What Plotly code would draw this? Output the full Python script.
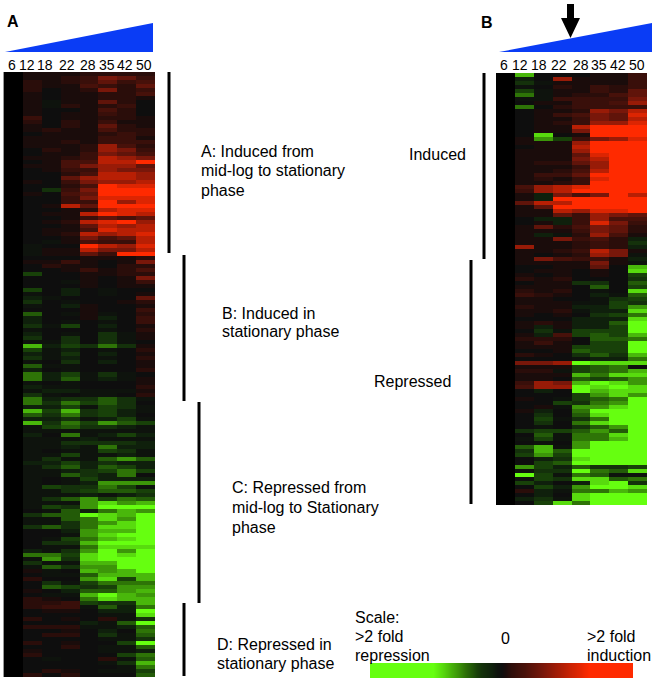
import plotly.graph_objects as go

W, H = 652, 685

# time points (hours) over the columns of both panels
time_labels = ["6", "12", "18", "22", "28", "35", "42", "50"]

# panel A, columns 12..50 (column 6 is the reference channel, drawn black). -10 = green, +10 = red
panel_a = [
    [1,1,1,2,2,2,2], [1,1,2,3,6,5,3], [2,1,2,3,5,3,4], [2,1,1,4,3,2,5], [2,0,1,2,6,2,3],
    [1,0,1,1,2,2,4], [1,0,1,1,2,2,1], [1,-1,1,1,5,2,0], [1,-1,2,1,2,3,0], [1,0,0,1,4,2,0],
    [1,0,1,1,3,2,0], [3,0,1,1,2,2,1], [2,0,2,1,3,1,1], [1,0,2,1,5,2,1], [1,2,1,1,4,2,2],
    [0,1,1,1,2,3,2], [1,1,1,1,3,3,1], [1,1,2,1,3,3,3], [1,1,1,2,7,4,2], [0,2,1,2,7,6,3],
    [0,1,1,3,6,5,4], [1,1,2,3,8,7,6], [0,1,4,4,8,8,10], [1,1,4,6,7,7,5], [0,1,3,3,7,6,6],
    [0,0,2,4,8,8,7], [0,0,5,7,8,8,7], [1,0,3,6,7,7,8], [0,0,2,4,10,9,9], [0,-3,3,6,10,10,10],
    [1,0,4,5,10,10,10], [0,0,3,6,9,9,9], [0,0,3,3,10,7,9], [0,1,8,5,10,10,10], [0,0,1,2,8,9,9],
    [0,1,1,8,10,9,8], [0,0,1,3,5,4,5], [0,1,2,8,9,10,7], [0,0,1,5,8,7,8], [0,1,1,4,9,8,8],
    [0,1,2,8,7,8,9], [0,0,1,6,4,5,8], [0,-1,1,4,3,3,8], [-1,0,0,10,8,7,9], [-1,1,1,8,6,6,8],
    [-1,1,1,5,3,10,10], [0,0,0,1,1,1,2], [1,1,3,1,0,1,6], [0,2,1,1,0,2,2], [0,0,1,3,1,2,4],
    [-4,0,0,1,1,2,2], [0,0,0,1,0,1,6], [0,0,-1,1,0,1,3], [0,0,0,1,0,1,1], [-4,0,-2,0,-1,0,0],
    [-1,0,-2,0,-1,0,1], [-2,-1,0,0,0,0,5], [-3,0,-1,0,0,1,2], [-1,0,-2,1,0,0,1], [0,0,0,1,0,0,3],
    [-5,0,-1,1,-1,0,2], [-2,0,0,1,-2,0,3], [-2,0,-1,0,-1,0,3], [-3,-1,-4,0,-2,0,1], [-1,0,0,0,-1,0,2],
    [-2,0,-1,0,-3,-1,1], [-3,0,-3,0,-3,-1,1], [-1,-1,-3,0,-3,-1,0], [-8,-2,-4,-3,-6,-3,1], [-4,-1,-2,0,-1,0,2],
    [-2,-1,-3,0,-2,0,1], [-3,-1,-2,0,-1,0,2], [-1,0,-3,0,-2,0,1], [-5,-1,-1,0,0,0,1], [-2,0,-1,0,0,0,2],
    [-6,-2,-4,-1,-3,-1,0], [-6,-2,-5,-1,-2,-1,1], [-1,0,-1,0,0,0,1], [-2,-1,-1,0,0,0,2], [-1,-2,-2,-1,-1,-1,1],
    [-3,-1,0,-1,-1,0,2], [-6,-2,-3,-3,-5,-3,-1], [-6,-3,-6,-4,-5,-3,0], [-2,-2,-4,-1,-4,-3,-1], [-8,-4,-8,-3,-4,-2,-1],
    [-5,-3,-6,-3,-4,-2,0], [-2,-2,-3,-1,-2,-4,-1], [-8,-3,-6,-4,-7,-5,-4], [-1,-4,-5,-3,-3,-2,-1], [-1,-1,-1,-1,-1,-1,-1],
    [-2,0,-6,-1,-2,-4,-2], [-1,-1,-1,-2,-1,-1,-1], [-1,-1,-3,-3,-3,-3,-2], [-1,-1,-2,-1,-6,-2,-2], [-1,0,-1,-1,-4,-3,-1],
    [-1,-1,-4,-1,-1,-2,-1], [-1,-3,-1,-1,-5,-7,-5], [-2,-2,-4,-2,-3,-2,-2], [-1,-3,-5,-2,-5,-4,-2], [-1,-1,-2,-3,-4,-6,-4],
    [-1,-1,-5,-3,-2,-6,0], [-1,0,-1,-4,-2,-2,-2], [-1,0,-1,-2,-7,-7,-7], [-1,-4,-3,-3,-6,-4,-1], [-1,-1,-3,-4,-5,-5,-4],
    [-1,-1,-1,-2,-1,-2,-3], [-1,-3,-5,-7,-4,-6,-5], [-1,-1,-1,-7,-9,-7,-8], [-1,-4,-3,-7,-10,-10,-10], [0,-1,-5,-2,-6,-8,-7],
    [-3,-5,-5,-10,-9,-8,-10], [-1,-1,-5,-6,-9,-7,-10], [-1,-1,-3,-6,-7,-9,-10], [-3,-5,-3,-6,-9,-9,-10], [0,0,-2,-7,-8,-8,-10],
    [0,0,-1,-7,-9,-10,-10], [0,-1,-4,-6,-8,-9,-10], [0,-3,-3,-8,-10,-10,-10], [0,-1,-1,-6,-9,-9,-9], [-2,-1,-3,-7,-10,-7,-10],
    [-6,-6,-4,-9,-10,-9,-10], [-1,-7,-3,-9,-10,-10,-10], [-3,-1,-1,-8,-8,-10,-10], [-1,-5,-3,-7,-7,-10,-10], [1,-1,0,-8,-7,-8,-10],
    [0,-1,-1,-5,-8,-8,-8], [2,0,0,-7,-9,-4,-8], [0,-3,-1,-4,-6,-6,-6], [0,-5,-4,-3,-4,-7,-7], [1,0,-2,-5,-5,-7,-8],
    [0,-1,-1,-8,-10,-8,-7], [2,1,0,-6,-9,-8,-8], [2,2,3,-4,-3,-3,-8], [2,3,3,-1,-5,-2,-6], [0,1,1,0,-2,-2,-10],
    [0,0,0,0,-1,-1,-9], [2,0,1,0,2,-1,-3], [0,0,0,-2,-1,-5,-10], [2,2,2,-1,-1,-2,-5], [0,0,1,0,-2,0,-6],
    [0,2,2,0,-3,-1,-5], [0,0,0,0,-1,-1,-3], [2,0,1,0,0,-4,-10], [0,0,2,0,-1,-1,-5], [1,0,0,0,-1,-1,-2],
    [2,0,0,0,0,-4,-6], [0,-1,0,0,2,-1,-5], [0,0,0,0,-1,-3,-8], [0,0,0,0,0,-1,-6], [0,2,1,0,-1,-1,-4],
    [2,0,2,0,0,0,-5],
]

# panel B, same columns and scale
panel_b = [
    [-8,0,0,0,1,1,3], [-2,0,7,1,1,1,3], [-3,-1,1,1,1,1,3], [-1,0,2,1,3,2,3], [-4,-1,1,1,3,2,5],
    [-6,-1,1,2,2,4,5], [-1,-1,3,3,3,3,6], [0,1,1,3,3,4,7], [-6,0,2,3,3,3,3], [0,1,1,2,7,6,8],
    [0,1,3,4,6,5,9], [0,1,1,3,6,5,8], [0,1,2,3,7,7,9], [0,1,1,8,10,10,10], [0,1,1,6,10,10,10],
    [0,-9,0,1,10,10,10], [1,-7,-4,3,6,7,9], [1,1,1,7,10,10,10], [0,1,1,8,10,10,10], [1,1,1,7,10,10,10],
    [1,1,1,5,9,10,10], [1,1,1,6,8,10,10], [1,2,2,5,7,10,10], [1,1,1,3,7,10,10], [1,1,2,4,8,10,10],
    [1,3,3,5,10,10,10], [1,2,1,3,9,10,10], [1,1,2,3,10,10,10], [4,7,8,9,10,10,10], [3,7,8,10,10,10,10],
    [1,-2,6,4,6,10,8], [1,-2,10,10,10,10,10], [5,8,8,10,10,10,10], [1,5,10,10,10,10,10], [1,1,8,7,9,9,10],
    [1,1,5,3,7,6,5], [0,-2,-2,3,7,4,4], [0,1,-2,3,9,6,3], [1,5,2,4,6,5,2], [1,1,1,3,6,5,2],
    [1,-2,-1,2,7,4,1], [1,1,6,3,4,2,-2], [1,1,1,2,3,2,-3], [7,1,1,2,3,2,-2], [1,1,2,3,8,6,1],
    [1,0,1,2,7,6,-1], [1,6,4,3,3,1,-2], [1,1,1,1,6,1,-1], [0,0,1,1,5,0,-8], [0,1,1,0,1,0,-9],
    [1,0,1,0,1,0,-4], [2,1,2,0,0,0,-3], [0,1,1,-3,-3,0,-5], [1,1,1,0,-5,0,-4], [2,1,2,0,-1,0,-9],
    [3,2,1,0,-2,-1,-5], [1,1,0,0,-1,-3,-4], [1,1,1,-1,-1,-4,-3], [2,1,1,-2,-2,-4,-7], [1,1,2,-1,-2,-2,-9],
    [1,0,1,0,-3,-4,-6], [0,0,0,-2,-2,-2,-9], [1,2,1,-2,-2,-5,-10], [1,-2,1,-2,-2,-4,-10], [0,-3,-1,-4,-4,-4,-10],
    [1,-2,4,-4,-5,-4,-8], [2,2,2,0,-5,-5,-6], [1,3,1,0,-4,-4,-10], [1,1,1,-4,-4,-4,-10], [0,0,1,-5,-4,-4,-10],
    [2,1,0,-3,-5,-3,-8], [0,0,0,-1,-2,-2,-6], [6,6,7,-10,-9,-9,-9], [1,1,1,-4,-5,-6,0], [2,2,-1,-4,-5,-6,-8],
    [1,1,1,-8,-6,-9,-9], [1,1,0,-5,-4,-5,-7], [3,7,6,-8,-10,-9,-7], [4,7,7,-10,-9,-10,-9], [0,-2,0,-10,-8,-9,-9],
    [0,0,0,-4,-7,-9,-7], [1,0,-1,-4,-5,-6,-10], [0,0,-4,-3,-6,-7,-10], [0,1,-1,-7,-7,-9,-10], [1,-2,0,-6,-10,-10,-10],
    [0,-3,0,-5,-9,-10,-10], [0,-4,-1,-3,-6,-10,-10], [0,-3,0,-6,-9,-10,-10], [0,-1,0,-3,-5,-7,-10], [-3,-4,-4,-5,-7,-5,-10],
    [0,-5,-1,-6,-6,-9,-10], [-1,-4,-1,-6,-6,-8,-10], [0,-1,0,-7,-10,-10,-10], [-5,-8,-1,-7,-10,-10,-10], [-3,-8,-5,-10,-10,-10,-10],
    [-4,-7,-4,-10,-10,-10,-10], [0,-2,-3,-9,-10,-10,-10], [0,-4,-5,-10,-10,-10,-10], [-7,-4,-2,-5,-3,-3,-4], [-1,-3,-3,-10,-6,-5,-9],
    [-10,-4,-1,-6,-5,-1,-1], [-1,-4,-3,-9,-9,-5,-6], [-4,-2,0,-2,-9,-10,-3], [0,-4,-2,-7,-10,-10,-9], [2,-2,-1,-6,-6,-8,-7],
    [0,-2,0,-9,-10,-10,-10], [-2,-3,-1,-9,-10,-10,-10], [0,-4,-9,-6,-10,-10,-10],
]

# scale bar, left to right
scale_values = [-10,-10,-10,-10,-10,-10,-10,-8.9,-7.6,-6.3,-4.8,-3,-2,0,
                2.3,3.7,4.8,5.8,6.7,7.6,8.5,9.2,10,10,10,10,10]

# colour ramp is darker than linear in the low range, as in the scan
green_black_red = [
    [0.00, "#66ff10"], [0.10, "#49b70b"], [0.20, "#2e7407"], [0.30, "#184109"], [0.40, "#0f200c"], [0.45, "#0e130d"],
    [0.50, "#0e0e0e"],
    [0.55, "#1a0c0b"], [0.60, "#2a0d0a"], [0.70, "#47110a"], [0.80, "#78170a"], [0.90, "#b81f04"], [1.00, "#ff2a00"],
]
FONT = "Liberation Sans, Arial, sans-serif"
BLUE = "#0a3cf5"


def fx(px):
    return px / W


def fy(px):
    return 1 - px / H


def heat_axes(fig, n, x0, x1, y0, y1):
    # place an axis pair by pixel box, the reference is a fixed size figure
    fig.update_layout({
        f"xaxis{n}": dict(domain=[fx(x0), fx(x1)], visible=False, anchor=f"y{n}"),
        f"yaxis{n}": dict(domain=[fy(y1), fy(y0)], visible=False, anchor=f"x{n}", autorange="reversed"),
    })


def add_panel(fig, rows, n):
    z = [[None] + r for r in rows]
    fig.add_trace(go.Heatmap(z=z, x=time_labels, colorscale=green_black_red, zmin=-10, zmax=10,
                             showscale=False, hoverinfo="skip", xaxis=f"x{n}", yaxis=f"y{n}"))


def label(fig, text, x, y, size=16, anchor="left", bold=False):
    if bold:
        text = "<b>" + text + "</b>"
    fig.add_annotation(text=text, x=fx(x), y=fy(y), xref="paper", yref="paper", showarrow=False,
                       xanchor=anchor, yanchor="middle", align=anchor, borderpad=0,
                       font=dict(family=FONT, size=size, color="#000000"))


def polygon(fig, pts, color):
    path = "M " + " L ".join(f"{fx(x):.5f},{fy(y):.5f}" for x, y in pts) + " Z"
    fig.add_shape(type="path", path=path, xref="paper", yref="paper", fillcolor=color, line_width=0)


def vbar(fig, x, y0, y1, width=3, color="#000000"):
    fig.add_shape(type="rect", x0=fx(x - width / 2), x1=fx(x + width / 2), y0=fy(y0), y1=fy(y1),
                  xref="paper", yref="paper", fillcolor=color, line_width=0)


fig = go.Figure()
add_panel(fig, panel_a, 1)
add_panel(fig, panel_b, 2)
fig.add_trace(go.Heatmap(z=[scale_values], colorscale=green_black_red, zmin=-10, zmax=10, zsmooth="best",
                         showscale=False, hoverinfo="skip", xaxis="x3", yaxis="y3"))
heat_axes(fig, 1, 4, 155, 72, 677)
heat_axes(fig, 2, 496, 647, 73, 505)
heat_axes(fig, 3, 370, 633, 663, 678)

# blue wedges and the arrow
polygon(fig, [(5, 52), (153, 23), (153, 52)], BLUE)
polygon(fig, [(499, 52), (652, 23), (652, 52)], BLUE)
polygon(fig, [(567, 4), (574, 4), (574, 18), (580, 18), (570.5, 38), (561, 18), (567, 18)], "#000000")

# group bars
vbar(fig, 169, 72, 253)
vbar(fig, 184, 255, 401)
vbar(fig, 199, 402, 603)
vbar(fig, 184, 603, 676)
vbar(fig, 484, 73, 259)
vbar(fig, 471, 260, 504)
# grey edge along the left of panel A
vbar(fig, 3.5, 72, 677, width=1, color="#999999")

for t, x in zip(time_labels, [12, 27, 45, 67, 88, 107, 125, 144]):
    label(fig, t, x, 65, size=14, anchor="center")
for t, x in zip(time_labels, [504, 520, 539, 559, 581, 599, 618, 637]):
    label(fig, t, x, 65, size=14, anchor="center")

label(fig, "A", 6, 21, size=16, bold=True)
label(fig, "B", 480, 22, size=16, bold=True)
label(fig, "A: Induced from", 200, 151)
label(fig, "mid-log to stationary", 200, 171)
label(fig, "phase", 200, 190)
label(fig, "B: Induced in", 221, 313)
label(fig, "stationary phase", 221, 332)
label(fig, "C: Repressed from", 231, 487)
label(fig, "mid-log to Stationary", 231, 507)
label(fig, "phase", 231, 527)
label(fig, "D: Repressed in", 216, 644)
label(fig, "stationary phase", 216, 663)
label(fig, "Induced", 408, 154)
label(fig, "Repressed", 373, 381)
label(fig, "Scale:", 354, 617)
label(fig, ">2 fold", 354, 636)
label(fig, "repression", 354, 655)
label(fig, "0", 505, 638, anchor="center")
label(fig, ">2 fold", 586, 636)
label(fig, "induction", 586, 655)

fig.update_layout(width=W, height=H, margin=dict(l=0, r=0, t=0, b=0), showlegend=False,
                  paper_bgcolor="white", plot_bgcolor="black")

fig.write_html("out.html", post_script="document.body.style.margin='0';", config={"displayModeBar": False})
